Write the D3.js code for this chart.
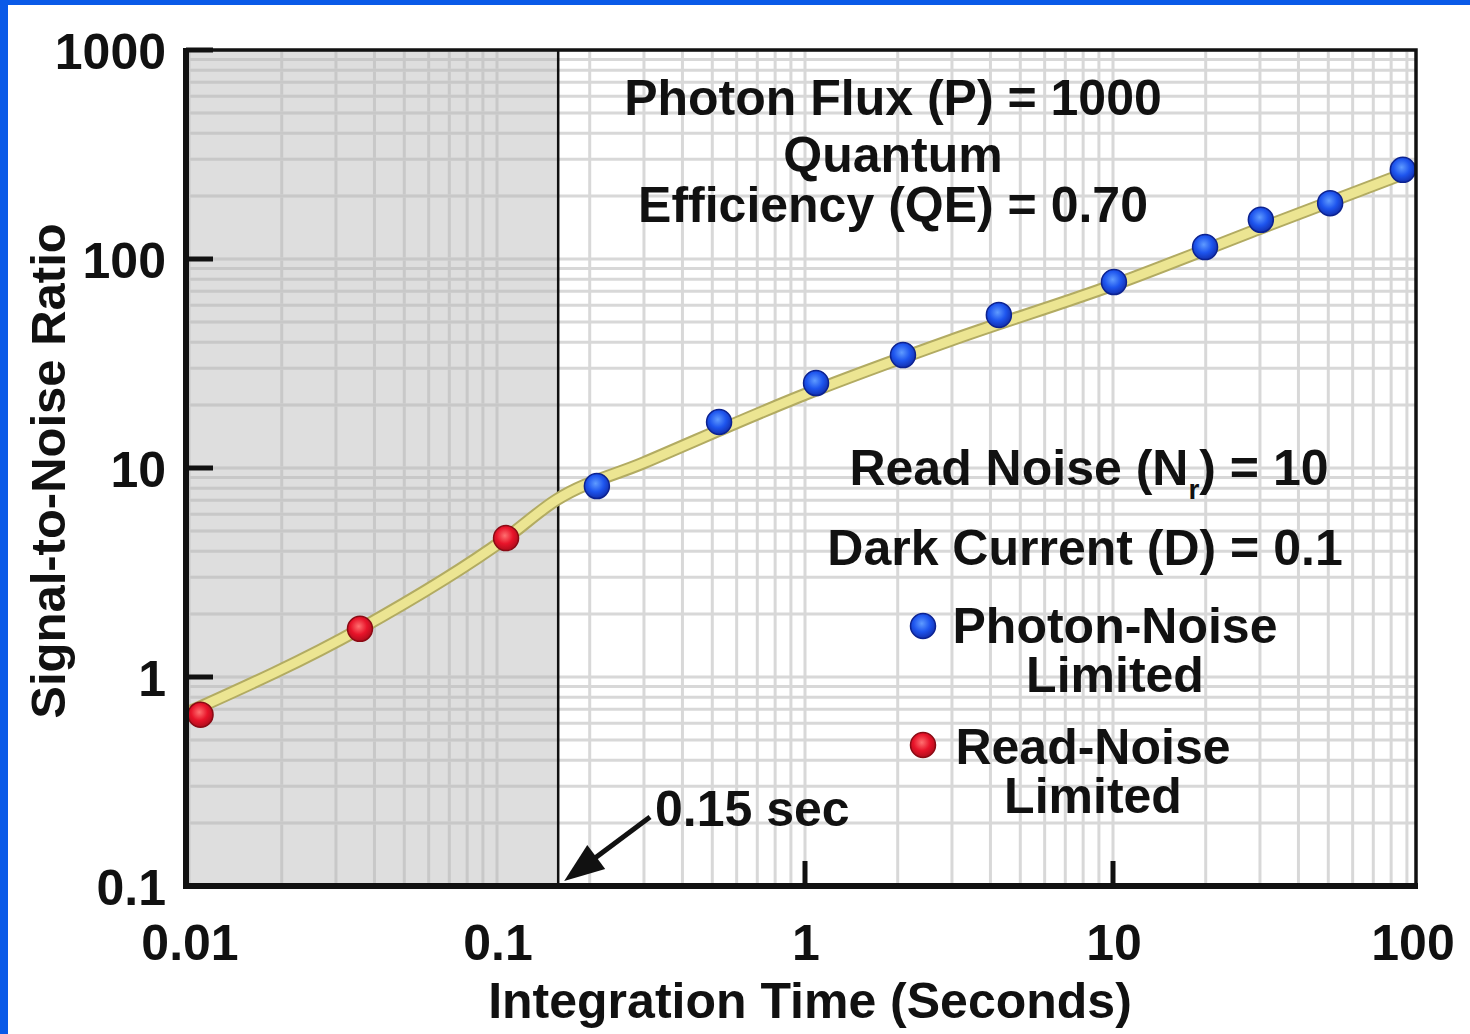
<!DOCTYPE html>
<html><head><meta charset="utf-8">
<script src="https://cdn.jsdelivr.net/npm/d3@7"></script>
<style>
html,body{margin:0;padding:0;background:#fff;}
svg{display:block;}
text{font-family:"Liberation Sans",Arial,Helvetica,sans-serif;font-weight:bold;fill:#111;}
</style></head><body>
<svg id="chart" width="1470" height="1034"></svg>
<script>
// ---- data ----
const xTickValues = [0.01, 0.1, 1, 10, 100];
const xTickLabels = ["0.01", "0.1", "1", "10", "100"];
const yTickValues = [0.1, 1, 10, 100, 1000];
const yTickLabels = ["0.1", "1", "10", "100", "1000"];

const curveTime = [0.01, 0.0359, 0.107, 0.155, 0.3, 1, 3, 10, 30, 100];
const curveSNR  = [0.68, 1.70, 4.62, 7.0, 10.6, 22.5, 41, 75, 140, 275];

const readTime = [0.0109, 0.0359, 0.107];
const readSNR  = [0.66, 1.70, 4.62];

const photonTime = [0.211, 0.526, 1.086, 2.08, 4.26, 10.07, 19.9, 30.2, 50.7, 87.3];
const photonSNR  = [8.2, 16.6, 25.5, 34.7, 54, 77.6, 114, 154, 185, 267];

const thresholdTime = 0.158;
const thresholdLabel = "0.15 sec";

const paramLines1 = ["Photon Flux (P) = 1000", "Quantum", "Efficiency (QE) = 0.70"];
const photonLegend = ["Photon-Noise", "Limited"];
const readLegend = ["Read-Noise", "Limited"];
const xTitle = "Integration Time (Seconds)";
const yTitle = "Signal-to-Noise Ratio";

// ---- layout ----
const svg = d3.select("#chart");
const L = 186, R = 1416, T = 50, B = 886;
const x = d3.scaleLog().domain([0.01, 100]).range([189, 1421]);
const y = d3.scaleLog().domain([0.1, 1000]).range([B, T]);

// blue frame
svg.append("rect").attr("x",0).attr("y",0).attr("width",1470).attr("height",1034).attr("fill","#fff");
svg.append("rect").attr("x",0).attr("y",0).attr("width",8).attr("height",1034).attr("fill","#0a5ae8");
svg.append("rect").attr("x",0).attr("y",0).attr("width",1470).attr("height",5).attr("fill","#0a5ae8");

const defs = svg.append("defs");
defs.append("clipPath").attr("id","plotclip").append("rect")
  .attr("x",L).attr("y",T).attr("width",R-L).attr("height",B-T);
function grad(id, c0, c1, c2){
  const g = defs.append("radialGradient").attr("id",id).attr("cx","45%").attr("cy","40%").attr("r","60%");
  g.append("stop").attr("offset","0%").attr("stop-color",c0);
  g.append("stop").attr("offset","55%").attr("stop-color",c1);
  g.append("stop").attr("offset","100%").attr("stop-color",c2);
}
grad("gBlue","#5f9bff","#1e55ee","#1230b0");
grad("gRed","#ff7070","#e8142a","#b00c1c");

const plot = svg.append("g").attr("clip-path","url(#plotclip)");
const xT = x(thresholdTime);
// shaded region
plot.append("rect").attr("x",L).attr("y",T).attr("width",xT-L).attr("height",B-T).attr("fill","#dedede");

// grid
const xGrid = [], yGrid = [];
for (let e=-2; e<2; e++) for (let m=1; m<10; m++) xGrid.push(m*Math.pow(10,e));
xGrid.push(100);
for (let e=-1; e<3; e++) for (let m=1; m<10; m++) yGrid.push(m*Math.pow(10,e));
yGrid.push(1000);
const gridG = plot.append("g");
gridG.selectAll("line.vx").data(xGrid).join("line")
  .attr("x1",d=>x(d)).attr("x2",d=>x(d)).attr("y1",T).attr("y2",B)
  .attr("stroke",d=> d < thresholdTime ? "#c8c8c8" : "#d8d8d8").attr("stroke-width",3);
gridG.selectAll("line.hy").data(yGrid).join("line")
  .attr("x1",L).attr("x2",R).attr("y1",d=>y(d)).attr("y2",d=>y(d))
  .attr("stroke","#d8d8d8").attr("stroke-width",3);
gridG.selectAll("line.hy2").data(yGrid).join("line")
  .attr("x1",L).attr("x2",xT).attr("y1",d=>y(d)).attr("y2",d=>y(d))
  .attr("stroke","#c8c8c8").attr("stroke-width",3);

// threshold line
plot.append("line").attr("x1",xT).attr("x2",xT).attr("y1",T).attr("y2",B)
  .attr("stroke","#111").attr("stroke-width",2.5);

// curve
const curvePts = curveTime.map((t,i)=>[t,curveSNR[i]]);
const lineGen = d3.line().x(d=>x(d[0])).y(d=>y(d[1])).curve(d3.curveMonotoneX);
plot.append("path").attr("d",lineGen(curvePts)).attr("fill","none")
  .attr("stroke","#b2ab62").attr("stroke-width",13).attr("stroke-linecap","round").attr("stroke-linejoin","round");
plot.append("path").attr("d",lineGen(curvePts)).attr("fill","none")
  .attr("stroke","#ece592").attr("stroke-width",9).attr("stroke-linecap","round").attr("stroke-linejoin","round");

// points
const readPts = readTime.map((t,i)=>[t,readSNR[i]]);
const photonPts = photonTime.map((t,i)=>[t,photonSNR[i]]);
svg.append("g").selectAll("circle").data(readPts).join("circle")
  .attr("cx",d=>x(d[0])).attr("cy",d=>y(d[1])).attr("r",12.5)
  .attr("fill","url(#gRed)").attr("stroke","#8a0a14").attr("stroke-width",1.5);
svg.append("g").selectAll("circle").data(photonPts).join("circle")
  .attr("cx",d=>x(d[0])).attr("cy",d=>y(d[1])).attr("r",12.5)
  .attr("fill","url(#gBlue)").attr("stroke","#0c2290").attr("stroke-width",1.5);

// frame
svg.append("rect").attr("x",L).attr("y",T).attr("width",R-L).attr("height",B-T)
  .attr("fill","none").attr("stroke","#111").attr("stroke-width",3.5);
svg.append("line").attr("x1",L).attr("x2",L).attr("y1",T-2).attr("y2",B+3).attr("stroke","#111").attr("stroke-width",6);
svg.append("line").attr("x1",L-3).attr("x2",R+2).attr("y1",B).attr("y2",B).attr("stroke","#111").attr("stroke-width",6);

// ticks
svg.append("g").selectAll("line").data(yTickValues).join("line")
  .attr("x1",L).attr("x2",L+27).attr("y1",d=>y(d)).attr("y2",d=>y(d))
  .attr("stroke","#111").attr("stroke-width",5);
svg.append("g").selectAll("line").data([1,10]).join("line")
  .attr("x1",d=>x(d)).attr("x2",d=>x(d)).attr("y1",B).attr("y2",B-25)
  .attr("stroke","#111").attr("stroke-width",5);

// tick labels
const FS = 50;
svg.append("g").selectAll("text").data(yTickValues).join("text")
  .attr("x",166).attr("y",d=>y(d)+19).attr("text-anchor","end").attr("font-size",FS)
  .text((d,i)=>yTickLabels[i]);
svg.append("g").selectAll("text").data(xTickValues).join("text")
  .attr("x",d=>Math.min(x(d)+1, R-3)).attr("y",960).attr("text-anchor","middle").attr("font-size",FS)
  .text((d,i)=>xTickLabels[i]);

// axis titles
svg.append("text").attr("x",810).attr("y",1018).attr("text-anchor","middle").attr("font-size",FS)
  .text(xTitle);
svg.append("text").attr("transform","translate(65,471) rotate(-90)").attr("text-anchor","middle")
  .attr("font-size",49).text(yTitle);

// multi-line text helper (one text element, one tspan per line)
function multiline(cx, baselines, lines){
  const t = svg.append("text").attr("text-anchor","middle").attr("font-size",FS);
  lines.forEach((s,i)=> t.append("tspan").attr("x",cx).attr("y",baselines[i]).text(s));
  return t;
}

// parameter annotations
multiline(893, [115,172,222], paramLines1);
const rn = svg.append("text").attr("x",1089).attr("y",485).attr("text-anchor","middle").attr("font-size",FS);
rn.append("tspan").text("Read Noise (N");
rn.append("tspan").attr("font-size",28).attr("dy",14).text("r");
rn.append("tspan").attr("dy",-14).text(") = 10");
svg.append("text").attr("x",1085).attr("y",565).attr("text-anchor","middle").attr("font-size",FS).text("Dark Current (D) = 0.1");

// legend
svg.append("circle").attr("cx",923).attr("cy",626).attr("r",12.5).attr("fill","url(#gBlue)").attr("stroke","#0c2290").attr("stroke-width",1.5);
multiline(1115, [643,692], photonLegend);
svg.append("circle").attr("cx",923).attr("cy",745).attr("r",12.5).attr("fill","url(#gRed)").attr("stroke","#8a0a14").attr("stroke-width",1.5);
multiline(1093, [764,813], readLegend);

// threshold annotation with arrow
svg.append("text").attr("x",655).attr("y",826).attr("font-size",FS).text(thresholdLabel);
const ax0 = 650, ay0 = 817, ax1 = xT+6, ay1 = 881;
const ang = Math.atan2(ay1-ay0, ax1-ax0);
const hl = 40, hw = 15;
const bx = ax1 - hl*Math.cos(ang), by = ay1 - hl*Math.sin(ang);
svg.append("line").attr("x1",ax0).attr("y1",ay0).attr("x2",bx+4*Math.cos(ang)).attr("y2",by+4*Math.sin(ang))
  .attr("stroke","#111").attr("stroke-width",5);
svg.append("path").attr("d",`M${ax1},${ay1} L${bx - hw*Math.sin(ang)},${by + hw*Math.cos(ang)} L${bx + hw*Math.sin(ang)},${by - hw*Math.cos(ang)} Z`)
  .attr("fill","#111");
</script>
</body></html>
